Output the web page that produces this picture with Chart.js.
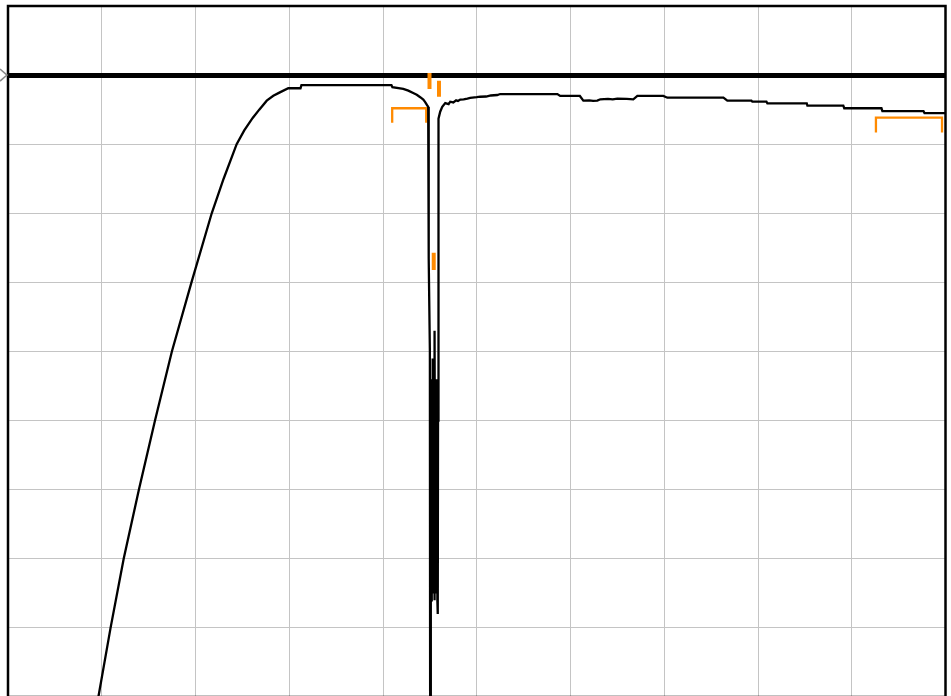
<!DOCTYPE html>
<html>
<head>
<meta charset="utf-8">
<script src="https://cdn.jsdelivr.net/npm/chart.js@4/dist/chart.umd.min.js"></script>
<style>
  html, body { margin: 0; padding: 0; background: #fff; overflow: hidden; }
  #wrap { position: absolute; left: 0; top: 0; width: 951px; height: 700px; }
</style>
</head>
<body>
<div id="wrap"><canvas id="myChart" width="951" height="700"></canvas></div>
<script>
// trace (x in divisions, y in dB, reference line at 0 dB)
const traceX = [
  0.92, 0.964, 1.094, 1.234, 1.396, 1.568, 1.748, 1.957, 2.173, 2.30,
  2.439, 2.52, 2.61, 2.68, 2.76, 2.83, 2.90, 2.99, 3.12, 3.13,
  4.09, 4.10, 4.216, 4.27, 4.322, 4.36, 4.397, 4.43, 4.45, 4.47,
  4.482, 4.485, 4.490, 4.500, 4.503, 4.508, 4.512, 4.516, 4.520, 4.524,
  4.528, 4.532, 4.536, 4.540, 4.544, 4.548, 4.552, 4.556, 4.560, 4.564,
  4.568, 4.572, 4.576, 4.580, 4.584, 4.587, 4.589, 4.591, 4.596, 4.61,
  4.632, 4.664, 4.70, 4.717, 4.75, 4.78, 4.80, 4.824, 4.86, 4.90,
  4.93, 5.00, 5.037, 5.10, 5.15, 5.219, 5.25, 5.86, 5.89, 6.10,
  6.137, 6.20, 6.24, 6.286, 6.318, 6.40, 6.45, 6.50, 6.60, 6.670,
  6.713, 6.99, 7.033, 7.631, 7.673, 7.93, 7.94, 8.09, 8.10, 8.52,
  8.527, 8.91, 8.92, 9.317, 9.327, 9.765, 9.776, 10.0
];
const traceY = [
  -94, -90, -80, -70, -60, -50, -40, -30, -20, -15,
  -10, -8, -6.2, -5.0, -3.7, -3.0, -2.5, -1.9, -1.9, -1.45,
  -1.45, -1.75, -2.0, -2.25, -2.6, -2.85, -3.2, -3.55, -3.9, -4.35,
  -4.6, -10, -26.5, -40, -95, -80, -44, -76, -45, -74,
  -41, -75, -44, -73, -46, -76, -37, -74, -44, -75,
  -45, -73, -44, -76, -78, -50, -25, -12, -6.3, -5.3,
  -4.6, -4.05, -4.2, -3.85, -3.95, -3.65, -3.75, -3.55, -3.5, -3.4,
  -3.3, -3.2, -3.13, -3.1, -2.95, -2.88, -2.74, -2.74, -3.02, -3.02,
  -3.70, -3.65, -3.72, -3.70, -3.50, -3.45, -3.52, -3.40, -3.45, -3.50,
  -3.02, -3.02, -3.27, -3.27, -3.70, -3.70, -3.85, -3.85, -4.08, -4.08,
  -4.43, -4.43, -4.80, -4.80, -5.20, -5.20, -5.49, -5.49
];

// orange markers
const bracketLeftX = [4.098, 4.098, 4.461, 4.461];
const bracketLeftY = [-6.89, -4.80, -4.80, -6.89];
const bracketRightX = [9.258, 9.258, 9.963, 9.963];
const bracketRightY = [-8.31, -6.16, -6.16, -8.31];
const markerBarsX = [4.496, 4.496, null, 4.597, 4.597, null, 4.541, 4.541];
const markerBarsY = [0.30, -2.01, null, -0.81, -3.13, null, -25.7, -28.2];

const xTicks = [0, 1, 2, 3, 4, 5, 6, 7, 8, 9, 10];
const refLevel = 0;

function toPoints(xs, ys) {
  return xs.map((x, i) => (x === null ? { x: NaN, y: NaN } : { x: x, y: ys[i] }));
}

const orange = "#ff8a00";

const framePlugin = {
  id: "frame",
  afterDraw(chart) {
    const { ctx, chartArea } = chart;
    ctx.save();
    ctx.strokeStyle = "#000";
    ctx.lineWidth = 2.5;
    ctx.strokeRect(chartArea.left, chartArea.top,
      chartArea.right - chartArea.left, chartArea.bottom - chartArea.top);
    // reference level arrow on the left edge
    const ry = chart.scales.y.getPixelForValue(refLevel);
    ctx.strokeStyle = "#888";
    ctx.lineWidth = 1.5;
    ctx.beginPath();
    ctx.moveTo(0, ry - 6);
    ctx.lineTo(7, ry);
    ctx.lineTo(0, ry + 6);
    ctx.stroke();
    ctx.restore();
  }
};

let ctx = document.getElementById("myChart");
let myChart = new Chart(ctx, {
  type: "line",
  data: {
    datasets: [
      {
        data: toPoints(traceX, traceY),
        borderColor: "#000",
        borderWidth: 2.3,
        pointRadius: 0,
        tension: 0,
        order: 0
      },
      {
        data: toPoints(bracketLeftX, bracketLeftY),
        borderColor: orange,
        borderWidth: 2.3,
        pointRadius: 0,
        order: 1
      },
      {
        data: toPoints(bracketRightX, bracketRightY),
        borderColor: orange,
        borderWidth: 2.3,
        pointRadius: 0,
        order: 1
      },
      {
        data: toPoints(markerBarsX, markerBarsY),
        borderColor: orange,
        borderWidth: 4,
        borderCapStyle: "butt",
        pointRadius: 0,
        spanGaps: false,
        order: 1
      }
    ]
  },
  options: {
    responsive: false,
    animation: false,
    layout: { padding: { left: 8, top: 6, right: 5.5, bottom: 3 } },
    plugins: { legend: { display: false }, tooltip: { enabled: false } },
    scales: {
      x: {
        type: "linear",
        min: 0,
        max: 10,
        afterBuildTicks: s => { s.ticks = xTicks.map(v => ({ value: v })); },
        afterFit: s => { s.height = 0; },
        ticks: { display: false },
        border: { display: false },
        grid: { color: "#c4c4c4", lineWidth: 1, drawTicks: false }
      },
      y: {
        type: "linear",
        min: -90,
        max: 10,
        ticks: { display: false, stepSize: 10 },
        afterFit: s => { s.width = 0; },
        border: { display: false },
        grid: {
          drawTicks: false,
          color: c => (c.tick.value === refLevel ? "#000" : "#c4c4c4"),
          lineWidth: c => (c.tick.value === refLevel ? 5 : 1)
        }
      }
    }
  },
  plugins: [framePlugin]
});
</script>
</body>
</html>
